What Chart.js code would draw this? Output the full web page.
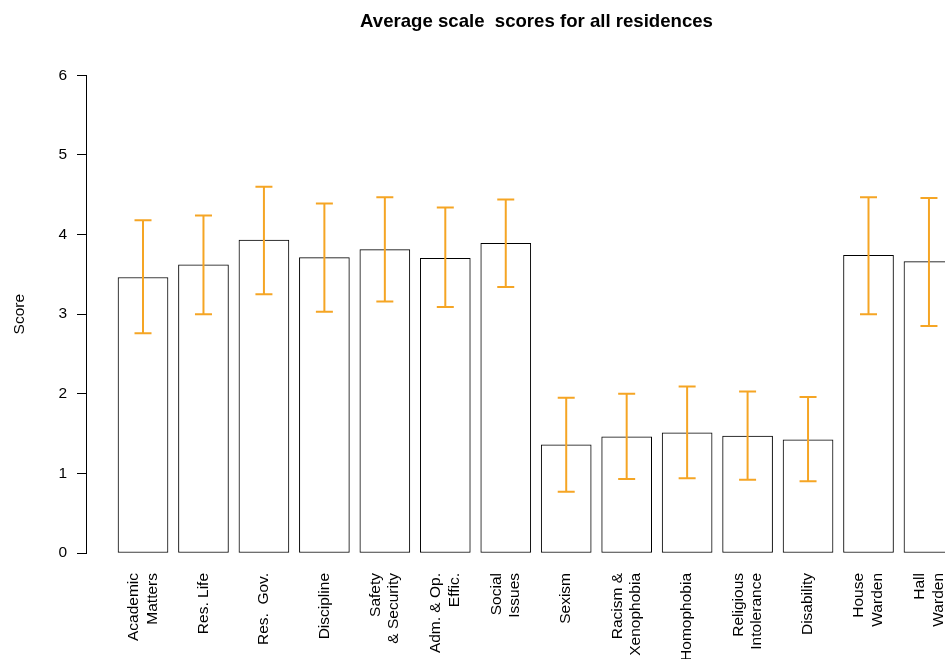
<!DOCTYPE html>
<html>
<head>
<meta charset="utf-8">
<script src="https://cdn.jsdelivr.net/npm/chart.js@4.4.1/dist/chart.umd.min.js"></script>
<style>
  html, body { margin: 0; padding: 0; overflow: hidden; background: #fff; }
  canvas { display: block; }
</style>
</head>
<body>
<canvas id="myChart" width="1072" height="659"></canvas>
<script>
// scale names as printed under the bars
var categories = [
  ['Academic', 'Matters'], 'Res. Life', 'Res.  Gov.', 'Discipline',
  ['Safety', '& Security'], ['Adm. & Op.', 'Effic.'], ['Social', 'Issues'],
  'Sexism', ['Racism &', 'Xenophobia'], 'Homophobia', ['Religious', 'Intolerance'],
  'Disability', ['House', 'Warden'], ['Hall', 'Warden']
];
var means = [3.46, 3.62, 3.93, 3.71, 3.81, 3.70, 3.89, 1.36, 1.46, 1.51, 1.47, 1.42, 3.74, 3.66];
var upper = [4.18, 4.24, 4.60, 4.39, 4.47, 4.34, 4.44, 1.95, 2.00, 2.09, 2.03, 1.96, 4.47, 4.46];
var lower = [2.76, 3.00, 3.25, 3.03, 3.16, 3.09, 3.34, 0.77, 0.93, 0.94, 0.92, 0.90, 3.00, 2.85];
var yTicks = [0, 1, 2, 3, 4, 5, 6];

var FONT = "'Liberation Sans', Arial, sans-serif";
var ERR_COLOR = '#F5A524';

// whiskers drawn on top of the bars
var errorBars = {
  id: 'errorBars',
  afterDatasetsDraw: function(chart) {
    var ctx = chart.ctx;
    var xs = chart.scales.x, ys = chart.scales.y;
    var area = chart.chartArea;
    ctx.save();
    ctx.beginPath();
    ctx.rect(area.left, area.top, area.right - area.left, area.bottom - area.top);
    ctx.clip();
    ctx.strokeStyle = ERR_COLOR;
    ctx.lineWidth = 2;
    for (var i = 0; i < means.length; i++) {
      var x = xs.getPixelForValue(i + 1);
      var yHi = ys.getPixelForValue(upper[i]);
      var yLo = ys.getPixelForValue(lower[i]);
      ctx.beginPath();
      ctx.moveTo(x, yHi); ctx.lineTo(x, yLo);
      ctx.moveTo(x - 8.5, yHi); ctx.lineTo(x + 8.5, yHi);
      ctx.moveTo(x - 8.5, yLo); ctx.lineTo(x + 8.5, yLo);
      ctx.stroke();
    }
    ctx.restore();
  }
};

var ctx = document.getElementById('myChart');
var myChart = new Chart(ctx, {
  type: 'bar',
  data: {
    datasets: [{
      data: means.map(function(v, i) { return {x: i + 1, y: v}; }),
      backgroundColor: '#ffffff',
      borderColor: '#000000',
      borderWidth: 1,
      borderSkipped: false,
      barThickness: 50
    }]
  },
  options: {
    responsive: false,
    animation: false,
    devicePixelRatio: 1,
    layout: { padding: { left: 0, right: 85, top: 0, bottom: 0 } },
    plugins: {
      legend: { display: false },
      tooltip: { enabled: false },
      title: {
        display: true,
        fullSize: false,
        text: 'Average scale  scores for all residences',
        color: '#000',
        font: { family: FONT, size: 18.6, weight: 'bold', lineHeight: 1.2 },
        padding: { top: 11, bottom: 42 }
      }
    },
    scales: {
      x: {
        type: 'linear',
        offset: false,
        min: 0.057,
        max: 14.96,
        grid: { display: false, drawTicks: false, offset: false },
        border: { display: false },
        afterBuildTicks: function(scale) {
          // two-line labels are shifted half a line so the block centres on the bar
          scale.ticks = categories.map(function(c, i) {
            var lines = Array.isArray(c) ? c.length : 1;
            return { value: i + 1 - (lines - 1) * 0.154 };
          });
        },
        afterFit: function(scale) { scale.height = 106; },
        ticks: {
          autoSkip: false,
          minRotation: 90,
          maxRotation: 90,
          padding: 20,
          color: '#000',
          font: { family: FONT, size: 15.5, lineHeight: 1.2 },
          callback: function(value, index) { return categories[index]; }
        }
      },
      y: {
        min: 0,
        max: 6,
        afterBuildTicks: function(scale) {
          scale.ticks = yTicks.map(function(v) { return { value: v }; });
        },
        afterFit: function(scale) { scale.width = 86; },
        grid: { drawOnChartArea: false, tickLength: 9, color: '#000', tickColor: '#000' },
        border: { display: true, color: '#000', width: 1 },
        ticks: {
          padding: 10,
          color: '#000',
          font: { family: FONT, size: 15.5 }
        },
        title: {
          display: true,
          text: 'Score',
          color: '#000',
          font: { family: FONT, size: 15.5, lineHeight: 1.2 },
          padding: { top: 10, bottom: 0 }
        }
      }
    }
  },
  plugins: [errorBars]
});
</script>
</body>
</html>
